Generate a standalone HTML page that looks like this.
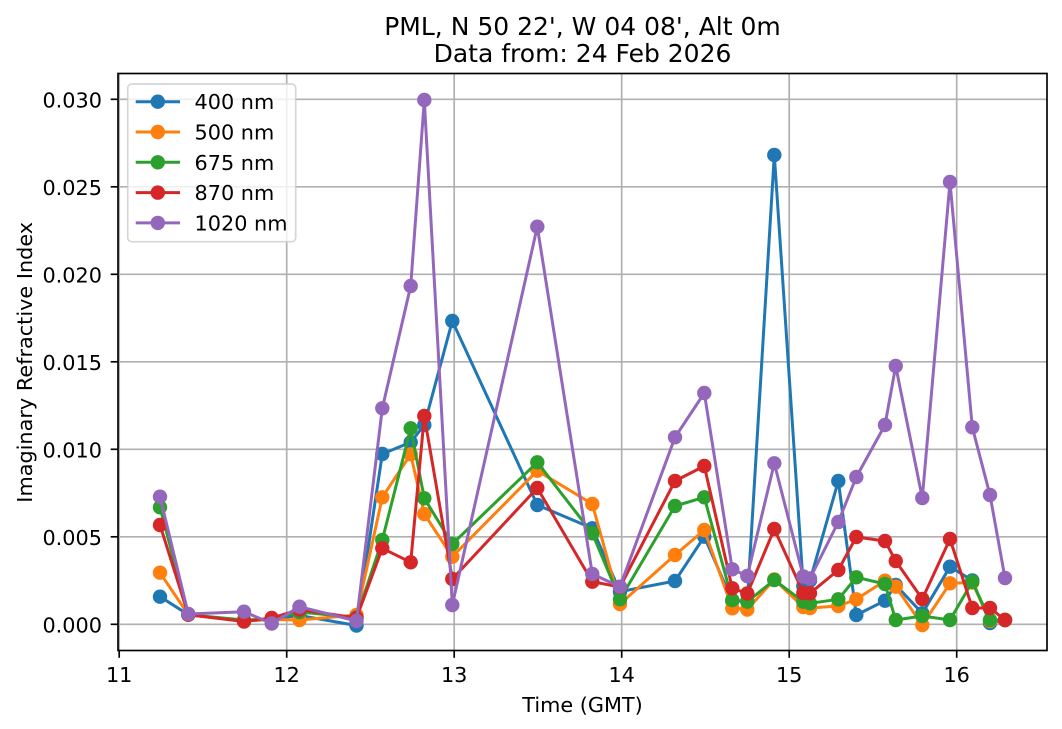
<!DOCTYPE html>
<html>
<head>
<meta charset="utf-8">
<style>
html,body{margin:0;padding:0;background:#ffffff;}
svg{display:block;}
text{font-family:"DejaVu Sans","Liberation Sans",sans-serif;fill:#000;}
</style>
</head>
<body>
<svg width="1062" height="729" viewBox="0 0 1062 729" xmlns="http://www.w3.org/2000/svg">
<defs>
<marker id="mb" viewBox="-8 -8 16 16" markerWidth="16" markerHeight="16" refX="0" refY="0" markerUnits="userSpaceOnUse"><circle r="7.2" fill="#1f77b4"/></marker>
<marker id="mo" viewBox="-8 -8 16 16" markerWidth="16" markerHeight="16" refX="0" refY="0" markerUnits="userSpaceOnUse"><circle r="7.2" fill="#ff7f0e"/></marker>
<marker id="mg" viewBox="-8 -8 16 16" markerWidth="16" markerHeight="16" refX="0" refY="0" markerUnits="userSpaceOnUse"><circle r="7.2" fill="#2ca02c"/></marker>
<marker id="mr" viewBox="-8 -8 16 16" markerWidth="16" markerHeight="16" refX="0" refY="0" markerUnits="userSpaceOnUse"><circle r="7.2" fill="#d62728"/></marker>
<marker id="mp" viewBox="-8 -8 16 16" markerWidth="16" markerHeight="16" refX="0" refY="0" markerUnits="userSpaceOnUse"><circle r="7.2" fill="#9467bd"/></marker>
<clipPath id="clip"><rect x="118" y="73.5" width="929" height="577"/></clipPath>
</defs>
<rect x="0" y="0" width="1062" height="729" fill="#ffffff"/>

<!-- grid -->
<g stroke="#b0b0b0" stroke-width="1.67" fill="none">
<line x1="119.2" y1="73.5" x2="119.2" y2="650.5"/>
<line x1="286.7" y1="73.5" x2="286.7" y2="650.5"/>
<line x1="454.2" y1="73.5" x2="454.2" y2="650.5"/>
<line x1="621.7" y1="73.5" x2="621.7" y2="650.5"/>
<line x1="789.2" y1="73.5" x2="789.2" y2="650.5"/>
<line x1="956.7" y1="73.5" x2="956.7" y2="650.5"/>
<line x1="118" y1="624.3" x2="1047" y2="624.3"/>
<line x1="118" y1="536.8" x2="1047" y2="536.8"/>
<line x1="118" y1="449.3" x2="1047" y2="449.3"/>
<line x1="118" y1="361.8" x2="1047" y2="361.8"/>
<line x1="118" y1="274.3" x2="1047" y2="274.3"/>
<line x1="118" y1="186.8" x2="1047" y2="186.8"/>
<line x1="118" y1="99.3" x2="1047" y2="99.3"/>
</g>

<!-- series -->
<g fill="none" stroke-width="3" stroke-linejoin="round" stroke-linecap="square">
<polyline stroke="#1f77b4" marker-start="url(#mb)" marker-mid="url(#mb)" marker-end="url(#mb)" points="160,596.7 188.3,614.7 244,621 271.7,619 299.5,615.5 356.5,625.5 382.3,454 410.7,442.3 424.3,425 452.3,321 537.3,505 592.3,528.3 620,591.7 675,581 704.3,536.7 732.3,601 747.3,601 774.3,155 803.3,586 810,580.5 838.3,481 856.3,615 885,600.7 895.7,585 922.3,613.3 950,566.7 972.3,580.5 990,623 1005,620"/>
<polyline stroke="#ff7f0e" marker-start="url(#mo)" marker-mid="url(#mo)" marker-end="url(#mo)" points="160,572.7 188.3,614.7 244,621 271.7,619.5 299.5,620 356.5,615 382.3,497.3 410.7,454.3 424.3,514 452.3,556.7 537.3,470.7 592.3,504 620,604 675,555 704.3,530 732.3,608.3 747.3,609.5 774.3,579.5 803.3,607 810,608 838.3,606 856.3,599.3 885,580.7 895.7,586.7 922.3,625 950,583.3 972.3,582.5 990,621 1005,620"/>
<polyline stroke="#2ca02c" marker-start="url(#mg)" marker-mid="url(#mg)" marker-end="url(#mg)" points="160,507.3 188.3,614.7 244,620 271.7,619 299.5,612 356.5,617.5 382.3,540 410.7,428.3 424.3,498.3 452.3,544 537.3,462.3 592.3,533.3 620,599.3 675,506 704.3,497.3 732.3,600 747.3,601.7 774.3,580 803.3,601.7 810,603.3 838.3,599.3 856.3,577.3 885,584 895.7,620 922.3,616 950,620 972.3,581.7 990,620 1005,620"/>
<polyline stroke="#d62728" marker-start="url(#mr)" marker-mid="url(#mr)" marker-end="url(#mr)" points="160,525 188.3,614.7 244,621.5 271.7,618 299.5,609.5 356.5,618 382.3,548.3 410.7,562.3 424.3,416 452.3,579 537.3,488 592.3,581.7 620,587 675,481 704.3,466 732.3,588.3 747.3,593.5 774.3,529 803.3,593 810,593.3 838.3,570 856.3,537 885,541 895.7,561 922.3,599 950,539 972.3,608 990,608 1005,620"/>
<polyline stroke="#9467bd" marker-start="url(#mp)" marker-mid="url(#mp)" marker-end="url(#mp)" points="160,496.7 188.3,614 244,611.7 271.7,623.5 299.5,606.7 356.5,621 382.3,408.3 410.7,286 424.3,100 452.3,605 537.3,226.7 592.3,574 620,586.7 675,437.3 704.3,393 732.3,569.3 747.3,576 774.3,463.3 803.3,576.5 810,578.5 838.3,522 856.3,477 885,425 895.7,366 922.3,498 950,182 972.3,427.3 990,495 1005,578"/>
</g>

<!-- spines -->
<rect x="118" y="73.5" width="929" height="577" fill="none" stroke="#000" stroke-width="1.67"/>

<!-- ticks -->
<g stroke="#000" stroke-width="1.67">
<line x1="119.2" y1="650.5" x2="119.2" y2="657.8"/>
<line x1="286.7" y1="650.5" x2="286.7" y2="657.8"/>
<line x1="454.2" y1="650.5" x2="454.2" y2="657.8"/>
<line x1="621.7" y1="650.5" x2="621.7" y2="657.8"/>
<line x1="789.2" y1="650.5" x2="789.2" y2="657.8"/>
<line x1="956.7" y1="650.5" x2="956.7" y2="657.8"/>
<line x1="110.7" y1="624.3" x2="118" y2="624.3"/>
<line x1="110.7" y1="536.8" x2="118" y2="536.8"/>
<line x1="110.7" y1="449.3" x2="118" y2="449.3"/>
<line x1="110.7" y1="361.8" x2="118" y2="361.8"/>
<line x1="110.7" y1="274.3" x2="118" y2="274.3"/>
<line x1="110.7" y1="186.8" x2="118" y2="186.8"/>
<line x1="110.7" y1="99.3" x2="118" y2="99.3"/>
</g>

<!-- tick labels -->
<g font-size="20.8" text-anchor="middle">
<text x="119.2" y="682">11</text>
<text x="286.7" y="682">12</text>
<text x="454.2" y="682">13</text>
<text x="621.7" y="682">14</text>
<text x="789.2" y="682">15</text>
<text x="956.7" y="682">16</text>
</g>
<g font-size="20.8" text-anchor="end">
<text x="102" y="632.5">0.000</text>
<text x="102" y="545">0.005</text>
<text x="102" y="457.5">0.010</text>
<text x="102" y="370">0.015</text>
<text x="102" y="282.5">0.020</text>
<text x="102" y="195">0.025</text>
<text x="102" y="107.5">0.030</text>
</g>

<!-- axis labels -->
<text x="582.5" y="712" font-size="20.8" text-anchor="middle">Time (GMT)</text>
<text transform="translate(32,362.3) rotate(-90)" x="0" y="0" font-size="20.8" text-anchor="middle">Imaginary Refractive Index</text>

<!-- title -->
<text x="582.5" y="35" font-size="25" text-anchor="middle">PML, N 50 22', W 04 08', Alt 0m</text>
<text x="582.5" y="62" font-size="25" text-anchor="middle">Data from: 24 Feb 2026</text>

<!-- legend -->
<rect x="127.7" y="84" width="168" height="157.7" rx="4" ry="4" fill="#ffffff" fill-opacity="0.8" stroke="#cccccc" stroke-opacity="0.8" stroke-width="1.67"/>
<g stroke-width="3">
<line x1="135.7" y1="101.7" x2="180" y2="101.7" stroke="#1f77b4"/>
<circle cx="157.8" cy="101.7" r="7.2" fill="#1f77b4"/>
<line x1="135.7" y1="132" x2="180" y2="132" stroke="#ff7f0e"/>
<circle cx="157.8" cy="132" r="7.2" fill="#ff7f0e"/>
<line x1="135.7" y1="162.3" x2="180" y2="162.3" stroke="#2ca02c"/>
<circle cx="157.8" cy="162.3" r="7.2" fill="#2ca02c"/>
<line x1="135.7" y1="192.6" x2="180" y2="192.6" stroke="#d62728"/>
<circle cx="157.8" cy="192.6" r="7.2" fill="#d62728"/>
<line x1="135.7" y1="222.9" x2="180" y2="222.9" stroke="#9467bd"/>
<circle cx="157.8" cy="222.9" r="7.2" fill="#9467bd"/>
</g>
<g font-size="20.8">
<text x="194.5" y="109.2">400 nm</text>
<text x="194.5" y="139.5">500 nm</text>
<text x="194.5" y="169.8">675 nm</text>
<text x="194.5" y="200.1">870 nm</text>
<text x="194.5" y="230.4">1020 nm</text>
</g>
</svg>
</body>
</html>
